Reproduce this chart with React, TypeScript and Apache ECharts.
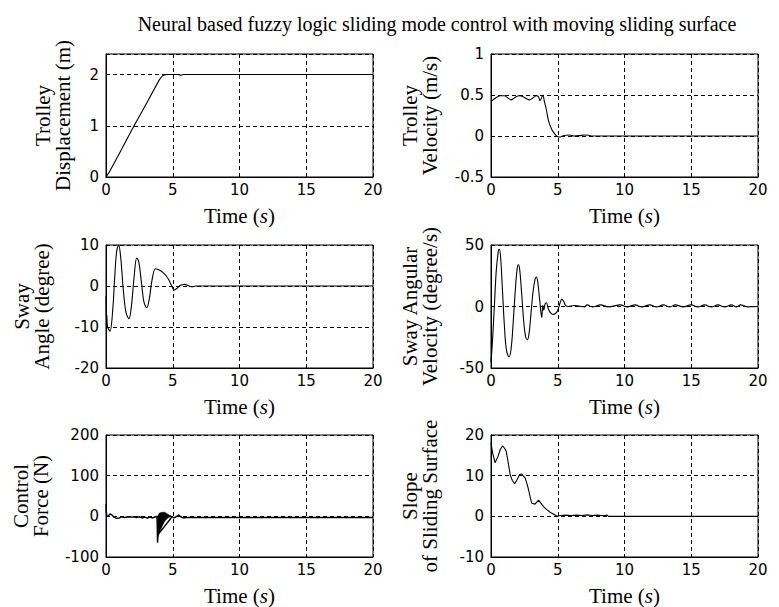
import React, { useEffect, useRef } from 'react';
import * as echarts from 'echarts';

const TITLE = 'Neural based fuzzy logic sliding mode control with moving sliding surface';
const X_NAME = 'Time ({it|s})';
const X_TICKS = [0, 5, 10, 15, 20];

// Trolley displacement (m)
const dispT = [0, 0.3, 1, 2, 3, 4, 4.25, 4.5, 5.4, 5.6, 5.8, 6, 20];
const dispV = [0, 0.12, 0.46, 0.95, 1.42, 1.9, 1.98, 2.0, 2.0, 1.985, 2.0, 2.0, 2.0];

// Trolley velocity (m/s)
const velT = [0, 0.15, 0.4, 0.7, 1.0, 1.3, 1.5, 1.8, 2.1, 2.4, 2.7, 2.9, 3.1, 3.4, 3.55, 3.68, 3.88, 4.0, 4.15, 4.3, 4.55, 4.8, 5.0, 5.15, 5.35, 5.6, 5.9, 6.2, 6.6, 7.0, 7.3, 7.5, 20];
const velV = [0.42, 0.44, 0.47, 0.49, 0.49, 0.46, 0.44, 0.47, 0.49, 0.48, 0.45, 0.44, 0.46, 0.49, 0.48, 0.43, 0.5, 0.42, 0.32, 0.19, 0.08, 0.02, -0.01, -0.012, 0.0, 0.01, 0.012, 0.0, 0.004, 0.012, 0.01, 0.0, 0.0];

// Sway angle (degree)
const angT = [0, 0.03, 0.06, 0.12, 0.3, 0.5, 0.65, 0.8, 0.95, 1.1, 1.3, 1.5, 1.72, 1.9, 2.1, 2.3, 2.45, 2.65, 2.85, 3.05, 3.25, 3.45, 3.7, 3.9, 4.1, 4.3, 4.5, 4.7, 4.9, 5.1, 5.3, 5.5, 5.7, 5.9, 6.1, 6.3, 6.5, 6.7, 20];
const angV = [-2.5, -9.5, -7, -10, -11, -6, 2, 8.5, 10, 7, -1, -6.5, -8, -5, 2, 6.8, 6, 1, -4, -5.3, -3, 1.5, 4.2, 4, 3.7, 3.2, 2.5, 1.5, 0.2, -1, -0.6, 0, 0.3, 0.4, 0.2, -0.1, -0.2, 0, 0];

// Sway angular velocity (degree/s)
const angVelT = [0, 0.1, 0.25, 0.4, 0.55, 0.62, 0.72, 0.85, 1.0, 1.15, 1.35, 1.5, 1.65, 1.8, 1.95, 2.05, 2.15, 2.3, 2.45, 2.6, 2.72, 2.85, 3.0, 3.15, 3.3, 3.4, 3.5, 3.65, 3.8, 3.88, 3.95, 4.05, 4.15, 4.3, 4.45, 4.65, 4.85, 5.0, 5.15, 5.3, 5.45, 5.6, 5.8, 6.2, 6.6, 7.0, 7.2, 7.6, 8.2, 8.8, 9.7, 10.2, 10.8, 11.3, 11.9, 12.4, 12.9, 13.4, 13.8, 14.4, 15.0, 15.5, 16.0, 16.5, 17.0, 17.5, 18.0, 18.4, 18.7, 19.2, 20];
const angVelV = [-45, -30, 0, 30, 45, 46.5, 40, 15, -15, -35, -41, -35, -15, 10, 30, 34, 30, 10, -12, -25, -27, -22, -5, 12, 22, 24, 20, 5, -9, 1, -3, 2, 3, -2, -5, -6.5, -5.5, -3, 2, 6, 4, 0.5, 0, 0.8, 0.3, -0.3, 1.3, -0.3, 1.3, -0.3, 1.3, -0.3, 1.3, -0.3, 1.3, -0.3, 1.3, -0.3, 1.3, -0.3, 1.3, -0.3, 1.3, -0.3, 1.3, -0.3, 1.3, -0.3, 1.3, -0.3, 0];

// Control force (N)
const forceT = [0, 0.02, 0.06, 0.15, 0.3, 0.45, 0.6, 0.8, 1.0, 1.2, 1.4, 1.7, 1.9, 2.1, 2.3, 2.5, 2.7, 2.9, 3.1, 3.3, 3.5, 3.7, 3.82, 3.86, 3.9, 4.95, 5.1, 5.3, 5.45, 5.6, 5.8, 6.0, 7, 8, 9, 10, 11, 12, 13, 14, 15, 16, 17, 18, 19, 20];
const forceV = [30, 12, 2, 0, 6, 3, -2, -5, -4, -1, -3, -1, -2, -1, -3, -1, -4, -2, -4, -2, -4, -1, 0, -65, -45, -1, -4, 0, 3, -1, -4, -3, -3, -3, -2.5, -3, -3, -2.5, -3, -3, -3, -2.5, -3, -3, -2.5, -3];
// Chattering band of the control force
const bandT = [3.86, 4.0, 4.2, 4.4, 4.6, 4.8, 4.95];
const bandHi = [0, 8, 10, 10, 6, 2, 0];
const bandLo = [-52, -40, -25, -12, -5, -1, 0];

// Slope of sliding surface
const slopeT = [0, 0.1, 0.3, 0.5, 0.7, 0.87, 1.0, 1.14, 1.3, 1.44, 1.6, 1.77, 1.95, 2.15, 2.31, 2.45, 2.56, 2.7, 2.81, 2.95, 3.06, 3.3, 3.56, 3.75, 3.93, 4.2, 4.43, 4.7, 4.95, 5.2, 5.6, 6.0, 6.4, 6.8, 7.2, 7.6, 8.0, 8.4, 8.7, 8.8, 20];
const slopeV = [18, 16, 13.2, 14.5, 16.5, 17.3, 16.8, 16, 13, 10.2, 8.8, 8, 9, 10.3, 10.4, 9.8, 9.4, 8, 6.6, 4.5, 3.2, 3.0, 4.0, 3.2, 2.4, 1.6, 1.0, 0.5, 0, 0.2, 0.3, 0.2, 0.3, 0.2, 0.35, 0.2, 0.3, 0.15, 0.3, 0, 0];

const panels = [
  { yName: 'Trolley\nDisplacement (m)', yMin: 0, yMax: 2.4, yStep: 1, yTicks: [0, 1, 2], t: dispT, v: dispV, smooth: false },
  { yName: 'Trolley\nVelocity (m/s)', yMin: -0.5, yMax: 1, yStep: 0.5, yTicks: [-0.5, 0, 0.5, 1], t: velT, v: velV, smooth: 0.3 },
  { yName: 'Sway\nAngle (degree)', yMin: -20, yMax: 10, yStep: 10, yTicks: [-20, -10, 0, 10], t: angT, v: angV, smooth: 0.35 },
  { yName: 'Sway Angular\nVelocity (degree/s)', yMin: -50, yMax: 50, yStep: 50, yTicks: [-50, 0, 50], t: angVelT, v: angVelV, smooth: 0.35 },
  { yName: 'Control\nForce (N)', yMin: -100, yMax: 200, yStep: 100, yTicks: [-100, 0, 100, 200], t: forceT, v: forceV, smooth: false },
  { yName: 'Slope\nof Sliding Surface', yMin: -10, yMax: 20, yStep: 10, yTicks: [-10, 0, 10, 20], t: slopeT, v: slopeV, smooth: false },
];

const layout = [
  { left: 106, top: 54, nameGap: 33 },
  { left: 491, top: 54, nameGap: 51 },
  { left: 106, top: 245, nameGap: 54 },
  { left: 491, top: 245, nameGap: 51 },
  { left: 106, top: 435, nameGap: 55 },
  { left: 491, top: 435, nameGap: 51 },
];

const SERIF = '"Liberation Serif", "Times New Roman", serif';
const SANS = '"DejaVu Sans", sans-serif';

export default function App() {
  const ref = useRef<HTMLDivElement>(null);
  useEffect(() => {
    if (!ref.current) return;
    const chart = echarts.init(ref.current, null, { renderer: 'svg' });
    const grids: any[] = [];
    const xAxes: any[] = [];
    const yAxes: any[] = [];
    const series: any[] = [];
    panels.forEach((p, i) => {
      const L = layout[i];
      grids.push({ left: L.left, top: L.top, width: 267, height: 123, show: true, borderColor: '#000', borderWidth: 1, backgroundColor: '#fff' });
      xAxes.push({
        type: 'value', gridIndex: i, min: 0, max: 20, interval: 5,
        name: X_NAME, nameLocation: 'middle', nameGap: 28,
        nameTextStyle: { fontFamily: SERIF, fontSize: 21, color: '#000', rich: { it: { fontFamily: SERIF, fontSize: 21, fontStyle: 'italic', color: '#000' } } },
        axisLine: { show: true, onZero: false, lineStyle: { color: '#000' } },
        axisTick: { show: false },
        axisLabel: { fontFamily: SANS, fontSize: 15, color: '#000', margin: 5, formatter: (v: number) => (X_TICKS.includes(v) ? String(v) : '') },
        splitLine: { show: true, lineStyle: { color: '#000', type: [4, 3], width: 1 } },
      });
      yAxes.push({
        type: 'value', gridIndex: i, min: p.yMin, max: p.yMax, interval: p.yStep,
        name: p.yName, nameLocation: 'middle', nameGap: L.nameGap,
        nameTextStyle: { fontFamily: SERIF, fontSize: 21, color: '#000', lineHeight: 20 },
        axisLine: { show: true, onZero: false, lineStyle: { color: '#000' } },
        axisTick: { show: false },
        axisLabel: { fontFamily: SANS, fontSize: 15, color: '#000', margin: 7, formatter: (v: number) => (p.yTicks.some((t) => Math.abs(t - v) < 1e-9) ? String(v) : '') },
        splitLine: { show: true, lineStyle: { color: '#000', type: [4, 3], width: 1 } },
      });
      series.push({
        type: 'line', xAxisIndex: i, yAxisIndex: i, showSymbol: false, smooth: p.smooth,
        lineStyle: { color: '#000', width: i === 4 ? 1.4 : 1.1 },
        data: p.t.map((t, k) => [t, p.v[k]]),
        z: 3,
      });
    });
    series.push({
      type: 'custom', xAxisIndex: 4, yAxisIndex: 4, data: [[4.4, 0]], silent: true, z: 4,
      renderItem: (_params: any, api: any) => {
        const pts: number[][] = [];
        for (let k = 0; k < bandT.length; k++) pts.push(api.coord([bandT[k], bandHi[k]]));
        for (let k = bandT.length - 1; k >= 0; k--) pts.push(api.coord([bandT[k], bandLo[k]]));
        return { type: 'polygon', shape: { points: pts }, style: { fill: '#000', stroke: '#000', lineWidth: 0.5 } };
      },
    });
    chart.setOption({
      animation: false,
      backgroundColor: '#fff',
      title: { text: TITLE, left: 432, top: 9, textAlign: 'center', textStyle: { fontFamily: SERIF, fontSize: 20, fontWeight: 'normal', color: '#000' } },
      grid: grids,
      xAxis: xAxes,
      yAxis: yAxes,
      series,
    });
    return () => chart.dispose();
  }, []);
  return <div ref={ref} style={{ position: 'fixed', left: 0, top: 0, width: 779, height: 607, background: '#fff' }} />;
}
